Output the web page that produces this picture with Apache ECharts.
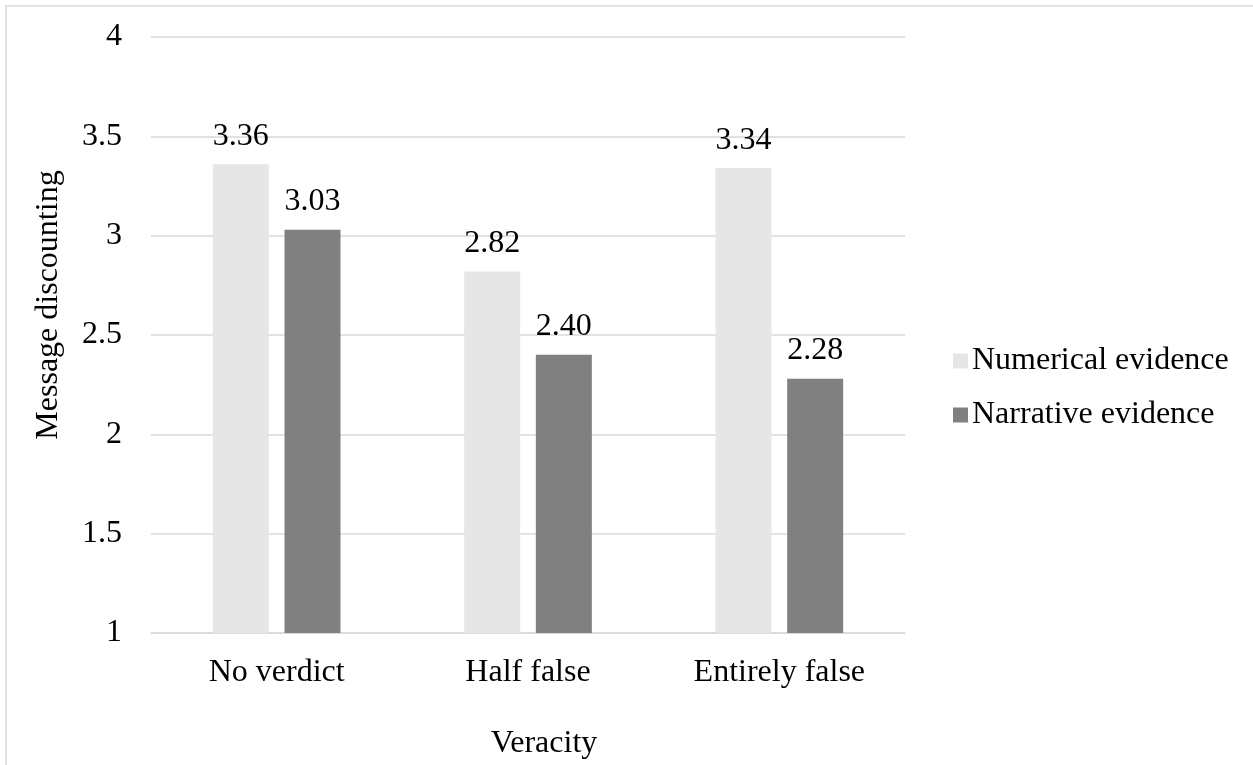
<!DOCTYPE html>
<html>
<head>
<meta charset="utf-8">
<script src="https://cdn.jsdelivr.net/npm/echarts@6/dist/echarts.min.js"></script>
<style>
html,body{margin:0;padding:0;background:#fff;}
#chart{width:1253px;height:765px;}
</style>
</head>
<body>
<div id="chart"></div>
<script>
const categories = ['No verdict', 'Half false', 'Entirely false'];
const numerical = [3.36, 2.82, 3.34];
const narrative = [3.03, 2.40, 2.28];
const seriesNames = ['Numerical evidence', 'Narrative evidence'];

const FONT = '"Liberation Serif", "Times New Roman", serif';
const chart = echarts.init(document.getElementById('chart'));
chart.setOption({
  animation: false,
  backgroundColor: '#fff',
  textStyle: { fontFamily: FONT, color: '#000' },
  graphic: [{
    type: 'rect', silent: true, z: -1,
    shape: { x: 6, y: 6, width: 1300, height: 800 },
    style: { fill: 'none', stroke: '#d9d9d9', lineWidth: 1.5 }
  }],
  grid: { left: 151, right: 348, top: 37, bottom: 131, containLabel: false },
  legend: {
    orient: 'vertical', left: 948, top: 340,
    itemWidth: 15, itemHeight: 15, itemGap: 22, icon: 'rect',
    textStyle: { fontFamily: FONT, fontSize: 32, color: '#000', padding: [0, 0, 0, -1] },
    data: seriesNames
  },
  xAxis: {
    type: 'category', data: categories,
    name: 'Veracity', nameLocation: 'middle', nameGap: 95,
    nameTextStyle: { fontFamily: FONT, fontSize: 32, color: '#000', padding: [0, 0, 0, 32] },
    axisLine: { lineStyle: { color: '#d9d9d9', width: 1.5 } },
    axisTick: { show: false },
    axisLabel: { fontFamily: FONT, fontSize: 32, color: '#000', margin: 24 }
  },
  yAxis: {
    type: 'value', min: 1, max: 4, interval: 0.5,
    name: 'Message discounting', nameLocation: 'middle', nameGap: 86,
    nameTextStyle: { fontFamily: FONT, fontSize: 32, color: '#000', padding: [0, 0, 0, 60] },
    axisLine: { show: false }, axisTick: { show: false },
    splitLine: { lineStyle: { color: '#d9d9d9', width: 1.5 } },
    axisLabel: { fontFamily: FONT, fontSize: 32, color: '#000', margin: 29 }
  },
  series: [
    {
      name: seriesNames[0], type: 'bar', data: numerical,
      barWidth: 56, barGap: '28%',
      itemStyle: { color: '#e6e6e6' },
      label: { show: true, position: 'top', distance: 12, fontFamily: FONT, fontSize: 32, color: '#000',
        formatter: p => p.value.toFixed(2) }
    },
    {
      name: seriesNames[1], type: 'bar', data: narrative,
      barWidth: 56, barGap: '28%',
      itemStyle: { color: '#808080' },
      label: { show: true, position: 'top', distance: 12, fontFamily: FONT, fontSize: 32, color: '#000',
        formatter: p => p.value.toFixed(2) }
    }
  ]
});
</script>
</body>
</html>
